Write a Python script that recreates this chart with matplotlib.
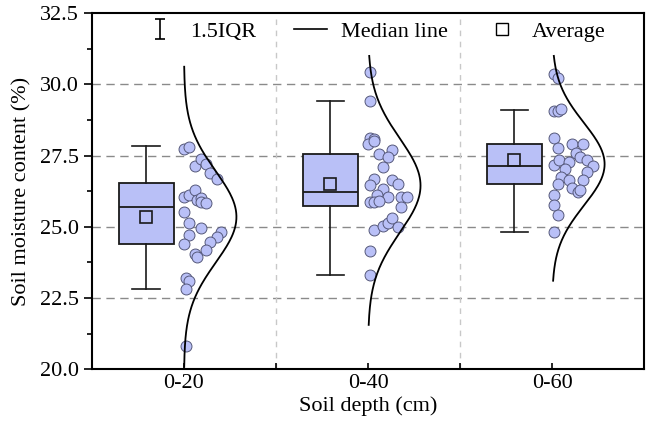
import numpy as np
import matplotlib
matplotlib.use('Agg')
import matplotlib.pyplot as plt
from matplotlib.path import Path
from matplotlib.lines import Line2D
from matplotlib.ticker import MultipleLocator, FormatStrFormatter

plt.rcParams['font.family'] = ['Liberation Serif', 'DejaVu Serif']
plt.rcParams['font.size'] = 16

depths = ['0-20', '0-40', '0-60']

# box statistics
q1 = [24.40, 25.73, 26.51]
med = [25.71, 26.21, 27.14]
q3 = [26.53, 27.56, 27.90]
wlo = [22.81, 23.30, 24.83]
whi = [27.84, 29.42, 29.10]
avg = [25.36, 26.51, 27.33]

# normal curve beside each box
curve_mu = [25.35, 26.45, 27.20]
curve_sd = [1.60, 1.65, 1.45]
curve_lo = [20.09, 21.56, 23.11]
curve_hi = [30.62, 31.00, 31.00]

# raw points: horizontal jitter and value
dx_20 = [0.00, 0.03, 0.06, 0.09, 0.12, 0.14, 0.18, 0.00, 0.03, 0.06, 0.07, 0.09, 0.09, 0.12,
         0.00, 0.03, 0.09, 0.03, 0.00, 0.20, 0.18, 0.14, 0.12, 0.06, 0.07, 0.01, 0.03, 0.01, 0.01]
y_20 = [27.74, 27.82, 27.15, 27.38, 27.20, 26.88, 26.67, 26.06, 26.12, 26.30, 25.94, 26.00, 25.89, 25.85,
        25.51, 25.13, 24.97, 24.72, 24.39, 24.81, 24.66, 24.46, 24.19, 24.04, 23.93, 23.22, 23.10, 22.81, 20.83]

dx_40 = [0.01, 0.01, 0.01, 0.03, 0.00, 0.03, 0.06, 0.13, 0.11, 0.08, 0.03, 0.01, 0.13, 0.16, 0.08,
         0.05, 0.11, 0.01, 0.03, 0.06, 0.18, 0.21, 0.18, 0.03, 0.08, 0.11, 0.13, 0.16, 0.01, 0.01]
y_40 = [30.45, 29.42, 28.11, 28.08, 27.91, 28.03, 27.56, 27.70, 27.44, 27.11, 26.67, 26.47, 26.65, 26.51, 26.32,
        26.12, 26.04, 25.88, 25.88, 25.92, 26.06, 26.04, 25.71, 24.89, 25.03, 25.15, 25.30, 25.01, 24.15, 23.31]

dx_60 = [0.01, 0.03, 0.01, 0.03, 0.05, 0.01, 0.03, 0.11, 0.17, 0.13, 0.15, 0.01, 0.04, 0.09, 0.19,
         0.22, 0.19, 0.07, 0.05, 0.09, 0.17, 0.03, 0.11, 0.14, 0.15, 0.01, 0.01, 0.03, 0.01]
y_60 = [30.36, 30.24, 29.07, 29.05, 29.14, 28.13, 27.78, 27.90, 27.90, 27.60, 27.45, 27.17, 27.36, 27.29, 27.33,
        27.13, 26.92, 27.03, 26.76, 26.65, 26.65, 26.50, 26.36, 26.24, 26.30, 26.12, 25.77, 25.42, 24.83]

fill = '#b9c0f7'

fig = plt.figure(figsize=(6.52, 4.25), dpi=100)
ax = fig.add_axes([0.141, 0.131, 0.847, 0.838])

pos = np.arange(1, len(depths) + 1)

# grid
for yv in [22.5, 25.0, 27.5, 30.0]:
    ax.axhline(yv, color='#8a8a8a', lw=1.0, ls=(0, (6, 4)), zorder=0)
for xv in [1.5, 2.5]:
    ax.axvline(xv, color='#c8c8c8', lw=1.0, ls=(0, (4, 4)), zorder=0)

# boxes
stats = []
for i in range(len(depths)):
    stats.append({'med': med[i], 'q1': q1[i], 'q3': q3[i], 'whislo': wlo[i],
                  'whishi': whi[i], 'mean': avg[i], 'fliers': []})
ax.bxp(stats, positions=pos - 0.205, widths=0.30, capwidths=0.15, patch_artist=True,
       showmeans=True, showfliers=False,
       boxprops=dict(facecolor=fill, edgecolor='#1a1a1a', lw=1.3),
       medianprops=dict(color='#1a1a1a', lw=1.3),
       whiskerprops=dict(color='#1a1a1a', lw=1.2),
       capprops=dict(color='#1a1a1a', lw=1.2),
       meanprops=dict(marker='s', markersize=8, markerfacecolor='none',
                      markeredgecolor='#1a1a1a', markeredgewidth=1.2),
       zorder=3)

# points
for p, dx, yy in zip(pos, [dx_20, dx_40, dx_60], [y_20, y_40, y_60]):
    ax.scatter(p + np.array(dx), yy, s=62, color=fill, edgecolor='#55587a', lw=0.7, zorder=4)

# normal curves
for i, p in enumerate(pos):
    yc = np.linspace(curve_lo[i], curve_hi[i], 200)
    xc = p + 0.285 * np.exp(-(yc - curve_mu[i]) ** 2 / (2 * curve_sd[i] ** 2))
    ax.plot(xc, yc, color='black', lw=1.3, zorder=5)

ax.set_xlim(0.5, 3.5)
ax.set_ylim(20.0, 32.5)
ax.set_xticks(pos)
ax.set_xticklabels(depths)
ax.set_xticks([1.5, 2.5], minor=True)
ax.yaxis.set_major_locator(MultipleLocator(2.5))
ax.yaxis.set_minor_locator(MultipleLocator(1.25))
ax.yaxis.set_major_formatter(FormatStrFormatter('%.1f'))
ax.tick_params(axis='y', which='major', direction='out', length=6, width=1.2)
ax.tick_params(axis='y', which='minor', direction='out', length=3.5, width=1.2)
ax.tick_params(axis='x', which='both', direction='in', length=4, width=1.2)
for s in ax.spines.values():
    s.set_linewidth(1.5)

ax.set_xlabel('Soil depth (cm)', labelpad=2)
ax.set_ylabel('Soil moisture content (%)', labelpad=6)

# legend
iqr_path = Path([(-0.5, -1), (0.5, -1), (0, -1), (0, 1), (-0.5, 1), (0.5, 1)],
                [Path.MOVETO, Path.LINETO, Path.MOVETO, Path.LINETO, Path.MOVETO, Path.LINETO])
handles = [
    Line2D([], [], ls='none', marker=iqr_path, markersize=14, markeredgewidth=1.2,
           markerfacecolor='none', markeredgecolor='black'),
    Line2D([], [], color='black', lw=1.2),
    Line2D([], [], ls='none', marker='s', markersize=8, markerfacecolor='none',
           markeredgecolor='black', markeredgewidth=1.0),
]
ax.legend(handles, ['1.5IQR', 'Median line', 'Average'], ncol=3, frameon=False,
          loc='center', bbox_to_anchor=(0.512, 0.948), handlelength=1.5,
          columnspacing=1.7, handletextpad=0.6, borderpad=0.2)

fig.savefig('out.png', dpi=100)
